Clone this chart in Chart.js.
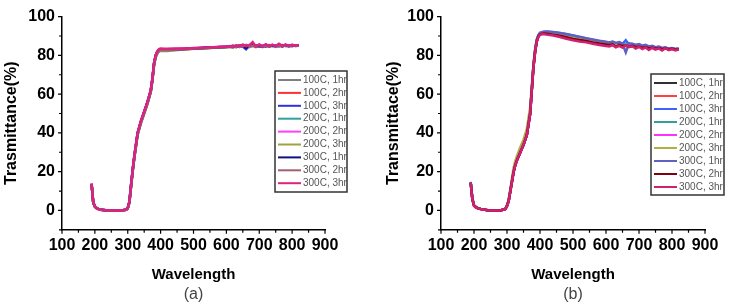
<!DOCTYPE html>
<html>
<head>
<meta charset="utf-8">
<script src="https://cdn.jsdelivr.net/npm/chart.js@4.4.1/dist/chart.umd.min.js"></script>
<style>
body{margin:0;background:#fff;}
.box{position:absolute;top:0;width:366px;height:304px;}
</style>
</head>
<body>
<div class="box" style="left:0"><canvas id="chartA" width="366" height="304"></canvas></div>
<div class="box" style="left:366px"><canvas id="chartB" width="366" height="304"></canvas></div>
<script>
// wavelength (nm) shared by both panels
var wl = [190,195,200,205,210,220,240,260,280,295,300,305,310,315,320,325,330,340,350,360,370,375,380,385,390,395,400,410,420,440,460,480,500,520,540,560,580,600,
  610,620,630,640,650,660,670,680,690,700,710,720,730,740,750,760,770,780,790,800,810,820];

var names = ['100C, 1hr','100C, 2hr','100C, 3hr','200C, 1hr','200C, 2hr','200C, 3hr','300C, 1hr','300C, 2hr','300C, 3hr'];
var xTicks = [100,200,300,400,500,600,700,800,900];
var yTicks = [0,20,40,60,80,100];

// panel (a)
var a1 = [13.4,4.2,2.0,1.2,0.8,0.3,0,0,0,0.3,1.0,4.0,12,20,27,33,39,45,50,55,61,67,75,79,81,82,82.4,82.2,82.3,82.6,82.9,83.1,83.4,83.6,83.7,83.9,84.1,84.2,
  84.4,84.1,84.7,84.3,85.0,84.6,84.2,85.1,84.5,84.9,84.3,85.2,84.6,85.0,84.4,85.3,84.7,85.1,84.6,85.2,84.8,85.0];
var a2 = [13.6,4.0,1.9,1.1,0.7,0.2,0,0,0,0.3,1.1,4.2,12.5,20.5,27.5,33.5,39.5,45.5,50.5,55.5,61.5,67.5,75.5,79.5,81.5,82.4,82.8,82.7,82.8,83.0,83.2,83.3,83.5,83.7,83.9,84.0,84.2,84.4,
  84.6,84.2,84.9,84.4,85.3,84.5,84.9,85.4,84.3,85.1,84.6,85.5,84.5,85.2,84.7,85.4,84.6,85.2,84.8,85.3,84.9,85.1];
var a3 = [13.5,4.1,2.0,1.2,0.8,0.3,0,0,0,0.4,1.2,4.5,13,21,28,34,40,46,51,56,62,68,76,80,82,82.8,83.1,82.9,82.9,83.1,83.3,83.4,83.6,83.8,84.0,84.1,84.3,84.4,
  84.5,84.8,84.3,85.0,84.6,83.2,85.1,84.8,85.2,84.6,85.0,84.5,85.3,84.8,85.0,84.6,85.3,84.9,85.0,84.7,85.2,85.0];
var a4 = [13.7,4.3,2.1,1.3,0.8,0.3,0,0,0,0.3,1.0,4.1,12.2,20.2,27.2,33.2,39.2,45.2,50.2,55.2,61.2,67.2,75.2,79.2,81.2,82.3,82.7,82.6,82.7,82.9,83.1,83.3,83.5,83.6,83.8,84.0,84.1,84.3,
  84.5,84.3,84.8,84.6,84.9,85.2,84.7,85.0,84.8,85.3,84.6,85.0,84.9,85.2,84.7,85.1,84.9,85.4,84.8,85.1,85.0,85.2];
var a5 = [13.8,4.2,2.0,1.2,0.7,0.2,0,0,0,0.3,1.1,4.3,12.6,20.6,27.6,33.8,39.8,45.8,50.8,55.8,62,68,76,79.8,81.6,82.6,83,82.9,83,83.1,83.3,83.4,83.6,83.8,83.9,84.1,84.3,84.4,
  84.7,84.4,85.0,84.6,85.4,84.8,84.5,86.2,84.6,85.2,84.7,85.6,84.6,85.3,84.8,85.5,84.7,85.4,84.9,85.3,85.0,85.2];
var a6 = [13.5,4.0,1.9,1.1,0.7,0.2,0,0,0,0.3,1.0,4.0,12,20,27,33,39,45,50,55,61,67,75,79,81,82.2,82.6,82.5,82.6,82.8,83.0,83.2,83.4,83.5,83.7,83.9,84.0,84.2,
  84.4,84.6,84.2,84.9,84.5,85.0,84.6,85.2,84.4,85.0,84.7,85.1,84.5,85.2,84.8,85.0,84.6,85.2,84.8,85.0,84.9,85.1];
var a7 = [13.6,4.1,2.0,1.2,0.8,0.3,0,0,0,0.4,1.2,4.4,12.8,20.8,27.8,33.8,39.8,45.8,50.8,55.8,61.8,67.8,75.8,79.8,81.8,82.7,83,82.9,82.9,83.1,83.2,83.4,83.6,83.7,83.9,84.1,84.2,84.4,
  84.6,84.9,84.4,85.1,84.7,84.0,85.0,85.2,84.7,85.0,84.6,85.3,84.7,85.1,84.9,85.2,84.7,85.3,84.9,85.1,85.0,85.1];
var a8 = [13.7,4.2,2.1,1.3,0.8,0.3,0,0,0,0.3,1.1,4.2,12.4,20.4,27.4,33.4,39.4,45.4,50.4,55.4,61.4,67.4,75.4,79.4,81.4,82.5,82.9,82.8,82.8,83.0,83.2,83.3,83.5,83.7,83.8,84.0,84.2,84.3,
  84.5,84.9,84.4,85.2,84.6,85.4,84.6,85.0,84.5,85.4,84.6,85.1,84.6,85.4,84.8,85.1,84.7,85.3,84.8,85.2,84.9,85.0];
var a9 = [13.9,4.3,2.1,1.3,0.8,0.3,0,0,0,0.4,1.3,4.6,13.2,21.2,28.2,34.2,40.2,46.2,51,56,62,68.2,76.2,80.2,82.2,83.2,83.5,83.4,83.4,83.5,83.5,83.6,83.8,83.9,84.0,84.2,84.4,84.5,
  84.8,84.5,85.2,84.7,85.5,84.8,85.3,86.8,84.6,85.6,84.8,85.7,84.9,85.4,84.8,86.0,84.9,85.6,85.0,85.5,85.1,85.3];

// panel (b)
var b1 = [14.3,6.0,2.6,1.8,1.3,0.8,0.2,0,0,0.8,2.4,5.0,10,15,20,23.5,26,30,34,39,50,62,74,82,87.5,90,91.2,91.6,91.5,91.2,90.6,89.9,89.0,88.4,87.9,87.2,86.6,86.1,
  85.8,86.2,85.5,85.9,85.2,85.6,84.8,85.3,84.6,84.9,84.2,84.6,84.0,84.3,83.7,84.1,83.5,83.9,83.3,83.6,83.2,83.3];
var b2 = [14.2,5.8,2.5,1.7,1.2,0.7,0.1,0,0,0.8,2.3,4.8,9.8,14.8,19.8,23.3,25.8,29.8,33.8,38.8,49.5,61.5,73.5,81.5,87,89.6,90.8,91.2,91.0,90.6,90.0,89.2,88.4,87.8,87.3,86.6,86.0,85.5,
  85.3,85.8,85.0,85.4,84.7,85.1,84.4,84.9,84.2,84.6,83.8,84.3,83.6,84.0,83.4,83.8,83.2,83.6,83.0,83.4,82.9,83.1];
var b3 = [14.6,6.1,2.6,1.8,1.3,0.8,0.2,0,0,0.8,2.5,5.1,10.2,15.2,20.2,23.7,26.2,30.2,34.2,39.2,50.5,62.5,74.5,82.5,88,90.5,91.6,92.1,92.2,91.9,91.5,90.9,90.2,89.4,88.7,88.0,87.3,86.8,
  86.5,86.9,86.2,86.6,85.9,87.8,85.4,86.0,85.3,85.6,84.8,85.2,84.4,84.7,84.0,84.3,83.6,84.0,83.4,83.7,83.2,83.4];
var b4 = [14.4,6.0,2.6,1.8,1.3,0.8,0.2,0,0,0.8,2.4,5.0,10,15,20,23.5,26,30,34,39,50,62,74,82,87.5,90,91.2,91.7,91.7,91.4,90.9,90.2,89.4,88.7,88.1,87.5,86.9,86.4,
  86.1,86.5,85.8,86.2,85.5,85.9,85.1,85.6,84.8,85.2,84.4,84.8,84.1,84.4,83.8,84.1,83.5,83.9,83.3,83.6,83.1,83.3];
var b5 = [14.3,5.9,2.5,1.7,1.2,0.7,0.1,0,0,0.8,2.4,4.9,9.9,14.9,19.9,23.4,25.9,29.9,33.9,38.9,49.8,61.8,73.8,81.8,87.3,89.8,91.0,91.4,91.2,90.8,90.2,89.4,88.6,88.0,87.5,86.8,86.2,85.7,
  85.4,85.9,85.1,85.6,84.8,85.2,84.5,85.0,84.3,84.7,83.9,84.4,83.7,84.1,83.5,83.9,83.3,83.7,83.1,83.5,83.0,83.2];
var b6 = [14.4,6.0,2.6,1.8,1.3,0.8,0.2,0,0,0.9,2.8,5.6,11,16.5,22,25.5,28,32.5,36.5,42,53,64,75.5,82.8,88,90.2,91.2,91.5,91.3,90.9,90.4,89.6,88.8,88.2,87.6,87.0,86.4,85.9,
  85.6,86.0,85.3,85.7,85.0,85.4,84.7,85.1,84.4,84.8,84.1,84.5,83.8,84.2,83.6,84.0,83.4,83.8,83.2,83.6,83.1,83.3];
var b7 = [14.7,6.2,2.7,1.9,1.4,0.8,0.2,0,0,0.8,2.5,5.1,10.1,15.1,20.1,23.6,26.1,30.1,34.1,39.1,50.3,62.3,74.3,82.3,87.8,90.4,91.6,92.2,92.3,92.0,91.6,91.0,90.3,89.6,88.9,88.2,87.5,87.0,
  86.7,87.1,86.4,86.8,86.0,81.5,86.3,85.9,85.4,85.8,85.0,85.4,84.6,84.9,84.2,84.5,83.8,84.1,83.5,83.8,83.3,83.5];
var b8 = [14.2,5.8,2.5,1.7,1.2,0.7,0.1,0,0,0.8,2.3,4.8,9.8,14.8,19.8,23.3,25.8,29.8,33.8,38.8,49.6,61.6,73.6,81.6,87.1,89.7,90.9,91.3,91.1,90.7,90.1,89.3,88.5,87.9,87.4,86.7,86.1,85.6,
  85.3,85.7,84.4,85.4,84.7,85.2,84.4,84.9,84.2,84.6,83.8,84.3,83.6,84.0,83.4,83.8,83.2,83.6,83.0,83.4,82.9,83.1];
var b9 = [14.2,5.8,2.5,1.7,1.2,0.7,0.1,0,0,0.7,2.2,4.7,9.7,14.7,19.7,23.2,25.7,29.7,33.7,38.7,49.5,61.5,73.5,81.5,87,89.5,90.7,91.0,90.7,90.2,89.5,88.6,87.8,87.2,86.7,86.0,85.4,84.8,
  84.6,85.3,84.2,84.9,84.0,85.1,84.3,84.7,83.5,84.4,83.2,84.1,82.8,83.9,83.0,83.6,82.5,83.7,82.7,83.3,82.6,83.0];

var colorsA = ['#7f7f7f','#ff3030','#3030e0','#30a0a0','#ff40ff','#a0a040','#101080','#a06070','#dc2282'];
var colorsB = ['#303030','#ff4040','#4060ff','#30a0a0','#ff30ff','#b0b040','#6060c0','#800010','#d02070'];

var FONT = '"Liberation Sans", Arial, sans-serif';

function makeSets(list, colors){
  return list.map(function(s, i){
    return {
      label: names[i],
      data: wl.map(function(x, j){ return {x: x, y: s[j]}; }),
      borderColor: colors[i],
      backgroundColor: colors[i],
      borderWidth: 2.5,
      pointRadius: 0,
      fill: false,
      tension: 0,
      order: list.length - i   // last series drawn on top
    };
  });
}

// outward tick marks (major + minor), like the origin plot
var tickMarks = {
  id: 'tickMarks',
  afterDraw: function(chart){
    var ctx = chart.ctx, xs = chart.scales.x, ys = chart.scales.y;
    ctx.save();
    ctx.strokeStyle = '#000';
    ctx.lineWidth = 1.2;
    ctx.beginPath();
    for (var v = 100; v <= 900; v += 50){
      var px = xs.getPixelForValue(v), len = (v % 100 === 0) ? 4 : 3;
      ctx.moveTo(px, ys.bottom); ctx.lineTo(px, ys.bottom + len);
    }
    for (var w = -10; w <= 100; w += 10){
      var py = ys.getPixelForValue(w), l2 = (w % 20 === 0) ? 4 : 3;
      ctx.moveTo(xs.left, py); ctx.lineTo(xs.left - l2, py);
    }
    ctx.stroke();
    ctx.restore();
  }
};

// boxed legend inside the plot
var boxLegend = {
  id: 'boxLegend',
  afterDraw: function(chart, args, opts){
    var ctx = chart.ctx;
    var sets = chart.data.datasets;
    ctx.save();
    ctx.fillStyle = '#fff';
    ctx.fillRect(opts.x, opts.y, opts.w, opts.h);
    ctx.beginPath();
    ctx.rect(opts.x, opts.y, opts.w, opts.h);
    ctx.clip();
    ctx.font = '10px ' + FONT;
    ctx.textBaseline = 'middle';
    for (var i = 0; i < sets.length; i++){
      var yy = opts.y + opts.first + i * opts.step;
      ctx.strokeStyle = sets[i].borderColor;
      ctx.lineWidth = 2;
      ctx.beginPath();
      ctx.moveTo(opts.x + 3, yy); ctx.lineTo(opts.x + 26, yy);
      ctx.stroke();
      ctx.fillStyle = '#555';
      ctx.fillText(sets[i].label, opts.x + 28, yy);
    }
    ctx.restore();
    ctx.save();
    ctx.strokeStyle = '#333';
    ctx.lineWidth = 1.5;
    ctx.strokeRect(opts.x, opts.y, opts.w, opts.h);
    ctx.restore();
  }
};

function makeChart(id, list, colors, yTitle, tag, pad, yWidth, legendPos){
  var ctx = document.getElementById(id).getContext('2d');
  return new Chart(ctx, {
    type: 'line',
    data: {datasets: makeSets(list, colors)},
    options: {
      responsive: false,
      animation: false,
      devicePixelRatio: 1,
      layout: {padding: pad},
      plugins: {
        legend: {display: false},
        tooltip: {enabled: false},
        title: {
          display: true, text: tag, position: 'bottom', fullSize: false,
          color: '#444', padding: 0,
          font: {family: FONT, size: 16, weight: 'normal'}
        },
        boxLegend: legendPos
      },
      scales: {
        x: {
          type: 'linear', min: 100, max: 900,
          afterBuildTicks: function(s){ s.ticks = xTicks.map(function(v){ return {value: v}; }); },
          afterFit: function(s){ s.height = 55; },
          grid: {display: false, drawTicks: false},
          border: {display: true, color: '#000', width: 1.5},
          ticks: {color: '#000', padding: 6, maxRotation: 0, font: {family: FONT, size: 16, weight: 'bold'}},
          title: {display: true, text: 'Wavelength', color: '#000', padding: {top: 0, bottom: 1},
            font: {family: FONT, size: 15, weight: 'bold'}}
        },
        y: {
          type: 'linear', min: -10, max: 100,
          afterBuildTicks: function(s){ s.ticks = yTicks.map(function(v){ return {value: v}; }); },
          afterFit: function(s){ s.width = yWidth; },
          grid: {display: false, drawTicks: false},
          border: {display: true, color: '#000', width: 1.5},
          ticks: {color: '#000', padding: 7, font: {family: FONT, size: 16, weight: 'bold'}},
          title: {display: true, text: yTitle, color: '#000', padding: {top: 2, bottom: 0},
            font: {family: FONT, size: 16, weight: 'bold'}}
        }
      }
    },
    plugins: [tickMarks, boxLegend]
  });
}

makeChart('chartA', [a1,a2,a3,a4,a5,a6,a7,a8,a9], colorsA, 'Trasmittance(%)', '(a)',
  {left: 0, right: 41, top: 12, bottom: 0}, 62,
  {x: 275, y: 71, w: 72, h: 121, first: 9, step: 12.9});

makeChart('chartB', [b1,b2,b3,b4,b5,b6,b7,b8,b9], colorsB, 'Transmittace(%)', '(b)',
  {left: 16, right: 27, top: 12, bottom: 0}, 59,
  {x: 285, y: 74, w: 73, h: 121, first: 9, step: 13});
</script>
</body>
</html>
